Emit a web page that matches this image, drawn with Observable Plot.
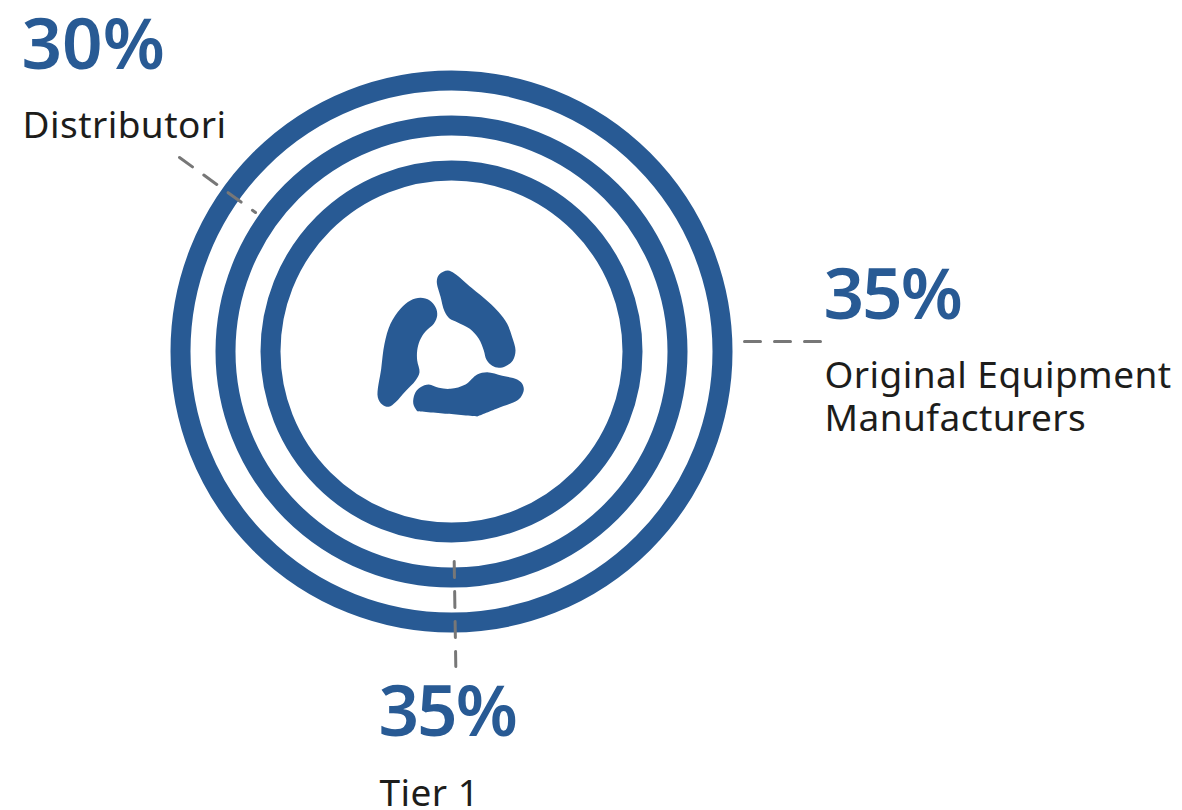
<!DOCTYPE html>
<html>
<head>
<meta charset="utf-8">
<style>
html,body{margin:0;padding:0;background:#fff;overflow:hidden}
.pct35 text{letter-spacing:-2px}
.lab text{letter-spacing:.45px}
</style>
<script src="https://cdn.jsdelivr.net/npm/d3@7"></script>
<script src="https://cdn.jsdelivr.net/npm/@observablehq/plot@0.6"></script>
</head>
<body>
<div id="chart"></div>
<script>
const blue = "#285a94", ink = "#1d1d1b", grey = "#777777";
const font = "'Noto Sans', sans-serif";

const ringRadii = [271, 226, 181];
const ringCentre = [451, 351];

const percents = ["30%", "35%", "35%"];
const percentX = [21, 823, 378];
const percentY = [68, 318, 735];

const labels = ["Distributori", "Original Equipment", "Manufacturers", "Tier 1"];
const labelX = [22, 824, 824, 379];
const labelY = [137, 387, 430, 805];

const leaderA = [[179, 157], [255, 212]];
const leaderB = [[744, 341], [820, 341]];
const leaderC = [[453.7, 561], [455.3, 666]];

const iconA = [[436.3,280.7],[438.7,274],[447.3,270],[454,273],[471,287.3],[488.3,301.7],[498.3,311.7],[506.7,323.3],[511.7,336.7],[515,350],[512.3,360],[505,365.7],[498.3,367.3],[491.7,365.3],[486,359.3],[483.3,350],[478.3,338.3],[469.3,328.3],[456.7,321.7],[449.3,318.3],[444,310.7],[440,296]];
const iconB = [[420,297.3],[429.3,300],[435.3,307.3],[436.7,315],[433.3,323.3],[425,331],[419.3,340],[416.7,350],[416.7,360],[419,371.7],[415,380],[405,390.7],[395,401.7],[388.3,406.3],[381.7,404],[377.3,396.7],[380.7,368.3],[384,343.3],[390,323.3],[400,308.3],[410,300]];
const iconC = [[412.7,400],[415,391.7],[420,386.7],[428.3,384],[438.3,387.3],[450,388.3],[465,384],[476.7,374],[486.7,371.7],[501.7,375.3],[516.7,379],[521.7,383.3],[523.3,389.3],[520.7,396],[516.7,400],[496.7,408],[476.7,416],[476.7,416],[446.7,413.3],[416.7,410.7],[416.7,410.7],[413.3,405]];

const leaderOpts = {stroke: grey, strokeWidth: 3, strokeDasharray: "16 14", strokeLinecap: "round"};
const pctOpts = {x: (d, i) => percentX[i], y: (d, i) => percentY[i], text: d => d, fill: blue, fontSize: 71, fontWeight: 600, fontFamily: font, textAnchor: "start", lineAnchor: "bottom"};

const plot = Plot.plot({
  width: 1182, height: 810,
  marginTop: 0, marginRight: 0, marginBottom: 0, marginLeft: 0,
  style: {background: "#fff", display: "block", overflow: "visible"},
  x: {domain: [0, 1182], range: [0, 1182], axis: null},
  y: {domain: [0, 810], range: [0, 810], axis: null},
  r: {type: "identity"},
  marks: [
    Plot.dot(ringRadii, {x: () => ringCentre[0], y: () => ringCentre[1], r: d => d, stroke: blue, strokeWidth: 20, fill: "none"}),
    ...[iconA, iconB, iconC].map(s => Plot.line(s, {x: d => d[0], y: d => d[1], fill: blue, stroke: "none", curve: "catmull-rom-closed"})),
    ...[leaderA, leaderB, leaderC].map(l => Plot.line(l, {x: d => d[0], y: d => d[1], ...leaderOpts})),
    Plot.text(percents, {...pctOpts, filter: (d, i) => i === 0}),
    Plot.text(percents, {...pctOpts, className: "pct35", filter: (d, i) => i > 0}),
    Plot.text(labels, {className: "lab", x: (d, i) => labelX[i], y: (d, i) => labelY[i], text: d => d, fill: ink, fontSize: 37, fontFamily: font, textAnchor: "start", lineAnchor: "bottom"})
  ]
});
document.getElementById("chart").append(plot);
</script>
</body>
</html>
